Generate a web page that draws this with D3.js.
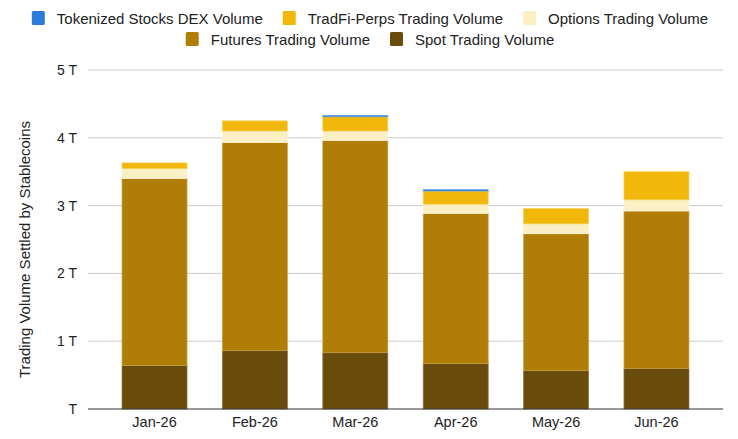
<!DOCTYPE html>
<html>
<head>
<meta charset="utf-8">
<script src="https://cdn.jsdelivr.net/npm/d3@7"></script>
<style>
  html, body { margin: 0; padding: 0; background: #fff; }
  svg { display: block; font-family: "Liberation Sans", Arial, sans-serif; }
</style>
</head>
<body>
<svg id="chart" width="738" height="439"></svg>
<script>
// ---- data (values in trillions) ----
const months = ["Jan-26", "Feb-26", "Mar-26", "Apr-26", "May-26", "Jun-26"];
const spotVolume    = [0.64, 0.86, 0.83, 0.67, 0.565, 0.60];
const futuresVolume = [2.76, 3.07, 3.13, 2.215, 2.02, 2.32];
const optionsVolume = [0.145, 0.17, 0.14, 0.135, 0.145, 0.165];
const tradfiVolume  = [0.085, 0.15, 0.21, 0.195, 0.225, 0.415];
const dexVolume     = [0, 0, 0.02, 0.02, 0, 0];
const yTickValues = [0, 1, 2, 3, 4, 5];
const yTickLabels = ["T", "1 T", "2 T", "3 T", "4 T", "5 T"];

const seriesKeys   = ["spot", "futures", "options", "tradfi", "dex"];
const seriesNames  = {
  dex: "Tokenized Stocks DEX Volume",
  tradfi: "TradFi-Perps Trading Volume",
  options: "Options Trading Volume",
  futures: "Futures Trading Volume",
  spot: "Spot Trading Volume"
};
const seriesColors = {
  dex: "#2b7bd8", tradfi: "#f1b80b", options: "#fbefc4", futures: "#b07d07", spot: "#694b0b"
};
const seriesStroke = {
  dex: "#5c9be3", tradfi: "#f6cf5a", options: "#fdf6dc", futures: "#c9a04a", spot: "#8c7440"
};

const table = months.map((m, i) => ({
  month: m, spot: spotVolume[i], futures: futuresVolume[i], options: optionsVolume[i],
  tradfi: tradfiVolume[i], dex: dexVolume[i]
}));

const svg = d3.select("#chart");
const plotLeft = 88, plotRight = 723, plotTop = 70, plotBottom = 409;
const FONT = '"Liberation Sans", Arial, sans-serif';

const x = d3.scaleBand().domain(months).range([plotLeft, plotRight]).paddingInner(0.3526).paddingOuter(0.339);
const y = d3.scaleLinear().domain([0, 5]).range([plotBottom, plotTop]);

// gridlines
svg.append("g").selectAll("line").data(yTickValues.filter(v => v > 0)).join("line")
  .attr("x1", plotLeft).attr("x2", plotRight)
  .attr("y1", d => y(d)).attr("y2", d => y(d))
  .attr("stroke", "#cccccc").attr("stroke-width", 1);

// bars
const stack = d3.stack().keys(seriesKeys)(table);
svg.append("g").selectAll("g").data(stack).join("g")
  .attr("fill", d => seriesColors[d.key])
  .attr("stroke", d => seriesStroke[d.key])
  .selectAll("rect").data(d => d.filter(p => p[1] - p[0] > 0)).join("rect")
  .attr("x", d => x(d.data.month))
  .attr("width", x.bandwidth())
  .attr("y", d => y(d[1]))
  .attr("height", d => y(d[0]) - y(d[1]))
  .attr("stroke-width", 0.7);

// baseline
svg.append("line").attr("x1", plotLeft).attr("x2", plotRight)
  .attr("y1", y(0)).attr("y2", y(0)).attr("stroke", "#333").attr("stroke-width", 1);

// y axis labels
const yAxis = d3.axisLeft(y).tickValues(yTickValues)
  .tickFormat((d, i) => yTickLabels[i]).tickSize(0).tickPadding(11);
const yg = svg.append("g").attr("transform", `translate(${plotLeft},0)`).call(yAxis);
yg.select(".domain").remove();
yg.selectAll("text").attr("font-size", 14).attr("fill", "#222").attr("font-family", FONT);

// x axis labels
const xAxis = d3.axisBottom(x).tickSize(0).tickPadding(8);
const xg = svg.append("g").attr("transform", `translate(0,${plotBottom})`).call(xAxis);
xg.select(".domain").remove();
xg.selectAll("text").attr("font-size", 14.5).attr("fill", "#222").attr("font-family", FONT);

// y title
svg.append("text")
  .attr("transform", `translate(30,${(plotTop + plotBottom) / 2 + 10}) rotate(-90)`)
  .attr("text-anchor", "middle")
  .attr("font-size", 15).attr("fill", "#222").attr("font-family", FONT)
  .text("Trading Volume Settled by Stablecoins");

// legend
const legendRows = [["dex", "tradfi", "options"], ["futures", "spot"]];
const legendY = [18, 39];
legendRows.forEach((row, ri) => {
  const g = svg.append("g");
  let cx = 0;
  row.forEach(k => {
    const item = g.append("g").attr("transform", `translate(${cx},0)`);
    item.append("rect").attr("x", 0).attr("y", -7).attr("width", 13).attr("height", 14)
      .attr("rx", 1.5).attr("fill", seriesColors[k]);
    const t = item.append("text").attr("x", 25).attr("y", 5.5).attr("font-size", 15)
      .attr("fill", "#222").attr("font-family", FONT).text(seriesNames[k]);
    const w = t.node().getComputedTextLength();
    cx += 25 + w + 20;
  });
  const total = cx - 20;
  g.attr("transform", `translate(${(738 - total) / 2 + 1},${legendY[ri]})`);
});
</script>
</body>
</html>
